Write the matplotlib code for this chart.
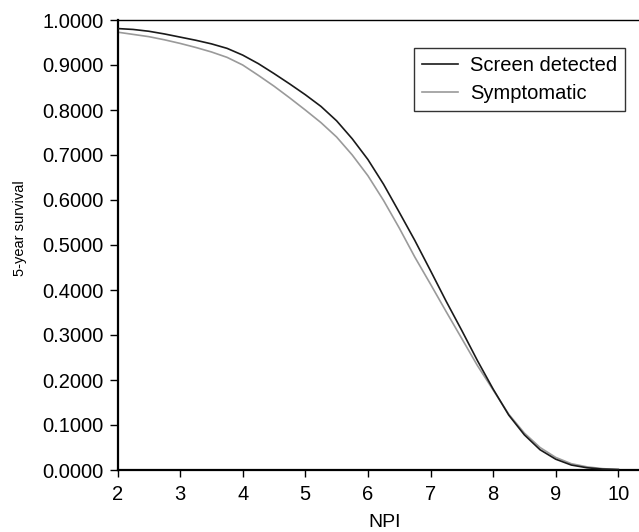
import matplotlib
matplotlib.use("Agg")
import matplotlib.pyplot as plt
from matplotlib.ticker import MultipleLocator, FormatStrFormatter

plt.rcParams['font.family'] = ['Liberation Sans', 'DejaVu Sans']

npi = [2.0, 2.25, 2.5, 2.75, 3.0, 3.25, 3.5, 3.75, 4.0, 4.25, 4.5, 4.75, 5.0,
       5.25, 5.5, 5.75, 6.0, 6.25, 6.5, 6.75, 7.0, 7.25, 7.5, 7.75, 8.0,
       8.25, 8.5, 8.75, 9.0, 9.25, 9.5, 9.75, 10.0]
screen_detected = [0.981, 0.979, 0.975, 0.969, 0.962, 0.955, 0.947, 0.937, 0.922,
                   0.903, 0.881, 0.858, 0.834, 0.808, 0.776, 0.736, 0.690, 0.635,
                   0.573, 0.510, 0.443, 0.375, 0.310, 0.243, 0.180, 0.122, 0.078,
                   0.045, 0.024, 0.011, 0.005, 0.002, 0.001]
symptomatic = [0.973, 0.968, 0.963, 0.956, 0.948, 0.939, 0.929, 0.917, 0.900,
               0.877, 0.853, 0.827, 0.800, 0.772, 0.740, 0.700, 0.654, 0.599,
               0.538, 0.473, 0.413, 0.352, 0.292, 0.232, 0.178, 0.124, 0.082,
               0.050, 0.028, 0.014, 0.007, 0.003, 0.001]
series_labels = ["Screen detected", "Symptomatic"]
x_ticks = [2, 3, 4, 5, 6, 7, 8, 9, 10]

fig = plt.figure(figsize=(6.39, 5.32), dpi=100)
ax = fig.add_axes([117.5 / 639, 1 - 470 / 532, 1 - 117.5 / 639, 450 / 532])

ax.plot(npi, symptomatic, color='#9a9a9a', lw=1.2, label=series_labels[1], zorder=2)
ax.plot(npi, screen_detected, color='#1a1a1a', lw=1.2, label=series_labels[0], zorder=3)

ax.set_xlim(2, 2 + (639 - 117.5) / 62.6)
ax.set_ylim(0, 1)
ax.set_xticks(x_ticks)
ax.yaxis.set_major_locator(MultipleLocator(0.1))
ax.yaxis.set_major_formatter(FormatStrFormatter('%.4f'))

for s in ['left', 'bottom']:
    ax.spines[s].set_linewidth(1.6)
ax.spines['top'].set_linewidth(1.0)
ax.spines['right'].set_visible(False)

ax.tick_params(axis='y', direction='out', length=6, width=1, labelsize=14.5, pad=4)
ax.tick_params(axis='x', direction='out', length=5, width=1, labelsize=14.5, pad=6)

ax.set_xlabel('NPI', fontsize=14)
ax.xaxis.set_label_coords((385 - 117.5) / 521.5, -(514 - 470) / 450)
ax.set_ylabel('5-year survival', fontsize=10.5)
ax.yaxis.set_label_coords((27 - 117.5) / 521.5, (470 - 228) / 450)

handles, labels = ax.get_legend_handles_labels()
leg = ax.legend(handles[::-1], labels[::-1], loc='upper right',
                bbox_to_anchor=(0.973, 0.938), borderaxespad=0,
                fontsize=14.5, frameon=True, fancybox=False, edgecolor='black',
                handlelength=1.75, handletextpad=0.6, borderpad=0.4,
                labelspacing=0.45)
leg.get_frame().set_linewidth(1.0)

fig.savefig('out.png', dpi=100)
